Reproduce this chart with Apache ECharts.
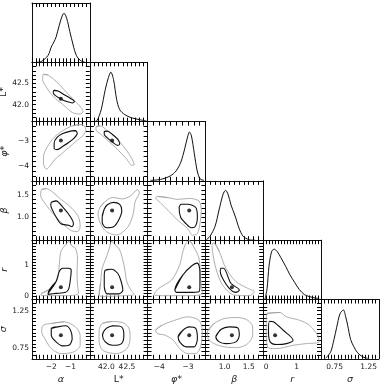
<!DOCTYPE html>
<html lang="en">
<head>
<meta charset="UTF-8">
<title>corner plot</title>
<script src="https://cdn.jsdelivr.net/npm/echarts@6/dist/echarts.min.js"></script>
<style>
    html, body { margin: 0; padding: 0; background: #fff; }
    #chart { width: 382px; height: 387px; }
</style>
</head>
<body>
<div id="chart"></div>
<script>
    // parameter names and axis ranges (min is a multiple of the tick step)
    const names = ['α', 'L*', 'φ*', 'β', 'r', 'σ'];
    const xRange = [[-3.0, 0], [41.6, 43.0], [-4.4, -2.4], [0.6, 1.8], [-0.1, 1.8], [0.55, 1.4]];
    const yRange = [[-3.0, 0], [41.6, 43.0], [-4.6, -2.2], [0.5, 1.8], [-0.1, 1.8], [0.6, 1.4]];
    const majorTicks = [[-2, -1], [42.0, 42.5], [-4, -3], [1.0, 1.5], [0, 1], [0.75, 1.25]];
    const tickStep = [0.2, 0.1, 0.2, 0.1, 0.1, 0.05];
    const decimals = [0, 1, 0, 1, 0, 2];

    // best fit point
    const bestFit = [-1.5, 42.14, -2.96, 1.15, 0.29, 0.918];

    // 1D marginals
    const alphaHist = [[-2.75, 0], [-2.5, 0.02], [-2.165, 0.14], [-2.0, 0.31], [-1.865, 0.41], [-1.75, 0.51], [-1.585, 0.75], [-1.415, 0.96], [-1.335, 0.99], [-1.2, 0.89], [-1.035, 0.62], [-0.865, 0.35], [-0.7, 0.14], [-0.5, 0.04], [-0.25, 0]];
    const lstarHist = [[41.7, 0], [41.775, 0.02], [41.875, 0.24], [41.975, 0.65], [42.05, 0.89], [42.11, 1.0], [42.175, 0.85], [42.25, 0.45], [42.325, 0.24], [42.45, 0.14], [42.6, 0.08], [42.8, 0.04], [42.975, 0.01]];
    const phiHist = [[-4.3, 0.01], [-3.95, 0.03], [-3.617, 0.1], [-3.417, 0.2], [-3.25, 0.38], [-3.117, 0.65], [-3.017, 0.89], [-2.95, 0.99], [-2.883, 0.91], [-2.783, 0.55], [-2.683, 0.2], [-2.583, 0.04], [-2.45, 0.01]];
    const betaHist = [[0.62, 0.01], [0.696, 0.08], [0.8, 0.28], [0.883, 0.61], [0.967, 0.93], [1.019, 1.01], [1.07, 0.93], [1.133, 0.71], [1.217, 0.49], [1.3, 0.24], [1.383, 0.08], [1.508, 0.01], [1.633, 0]];
    const rHist = [[-0.038, 0.01], [0.027, 0.22], [0.09, 0.67], [0.172, 0.96], [0.253, 1.02], [0.35, 0.98], [0.478, 0.85], [0.64, 0.67], [0.77, 0.51], [0.93, 0.35], [1.09, 0.2], [1.253, 0.1], [1.414, 0.06], [1.607, 0.03], [1.736, 0.02]];
    const sigmaHist = [[0.619, 0.01], [0.692, 0.14], [0.741, 0.39], [0.781, 0.64], [0.829, 0.91], [0.879, 0.99], [0.913, 0.85], [0.942, 0.68], [0.986, 0.39], [1.031, 0.25], [1.089, 0.12], [1.163, 0.04], [1.236, 0.01]];
    const hists = [alphaHist, lstarHist, phiHist, betaHist, rHist, sigmaHist];

    // 2D contours: outer (grey) and inner (black)
    const lstarAlphaOuter = [[-2.4, 42.718], [-2.15, 42.694], [-1.75, 42.551], [-1.35, 42.361], [-0.9, 42.147], [-0.5, 41.956], [-0.35, 41.837], [-0.5, 41.778], [-0.9, 41.813], [-1.4, 42.004], [-1.9, 42.194], [-2.25, 42.409], [-2.45, 42.599]];
    const lstarAlphaInner = [[-1.85, 42.337], [-1.65, 42.325], [-1.35, 42.242], [-1.0, 42.147], [-0.8, 42.075], [-0.9, 42.04], [-1.2, 42.075], [-1.5, 42.135], [-1.8, 42.218], [-1.9, 42.29]];

    const phiAlphaOuter = [[-0.4, -2.316], [-0.9, -2.374], [-1.4, -2.566], [-1.85, -2.835], [-2.2, -3.22], [-2.4, -3.605], [-2.4, -3.912], [-2.25, -4.124], [-2.1, -4.028], [-1.85, -3.758], [-1.5, -3.528], [-1.1, -3.258], [-0.7, -2.989], [-0.35, -2.758], [-0.2, -2.528]];
    const phiAlphaInner = [[-0.75, -2.566], [-1.0, -2.585], [-1.4, -2.682], [-1.7, -2.835], [-1.85, -3.066], [-1.85, -3.278], [-1.7, -3.335], [-1.4, -3.2], [-1.1, -3.047], [-0.8, -2.855], [-0.65, -2.682]];
    const phiLstarOuter = [[41.75, -2.412], [41.85, -2.374], [42.025, -2.566], [42.225, -2.835], [42.425, -3.22], [42.6, -3.643], [42.675, -3.951], [42.625, -3.97], [42.475, -3.682], [42.275, -3.335], [42.075, -3.028], [41.875, -2.72], [41.75, -2.528]];
    const phiLstarInner = [[41.95, -2.605], [42.025, -2.585], [42.15, -2.72], [42.275, -2.912], [42.325, -3.105], [42.275, -3.162], [42.15, -3.028], [42.025, -2.855], [41.95, -2.72]];

    const betaAlphaOuter = [[-2.5, 1.609], [-2.25, 1.63], [-1.9, 1.544], [-1.5, 1.395], [-1.1, 1.266], [-0.75, 1.116], [-0.55, 0.966], [-0.5, 0.795], [-0.65, 0.688], [-0.95, 0.709], [-1.35, 0.838], [-1.75, 1.009], [-2.1, 1.18], [-2.4, 1.352], [-2.55, 1.48]];
    const betaAlphaInner = [[-2.0, 1.33], [-1.75, 1.362], [-1.4, 1.223], [-1.0, 1.009], [-0.85, 0.859], [-0.925, 0.795], [-1.1, 0.827], [-1.5, 0.859], [-1.75, 1.009], [-1.925, 1.148], [-2.025, 1.266]];
    const betaLstarOuter = [[41.85, 1.223], [41.95, 1.33], [42.15, 1.437], [42.4, 1.405], [42.6, 1.48], [42.75, 1.609], [42.8, 1.544], [42.7, 1.352], [42.65, 1.073], [42.525, 0.795], [42.25, 0.613], [42.0, 0.688], [41.85, 0.881], [41.8, 1.073]];
    const betaLstarInner = [[41.9, 1.009], [41.95, 1.18], [42.025, 1.277], [42.175, 1.33], [42.325, 1.287], [42.375, 1.148], [42.3, 0.945], [42.175, 0.795], [42.0, 0.774], [41.9, 0.891]];
    const betaPhiOuter = [[-4.067, 1.459], [-3.677, 1.431], [-3.343, 1.395], [-2.957, 1.416], [-2.623, 1.358], [-2.543, 1.144], [-2.59, 0.859], [-2.677, 0.645], [-2.843, 0.609], [-3.01, 0.752], [-3.343, 0.93], [-3.677, 1.144], [-3.957, 1.324], [-4.123, 1.431]];
    const betaPhiInner = [[-3.233, 1.287], [-3.01, 1.287], [-2.733, 1.217], [-2.677, 1.003], [-2.767, 0.789], [-2.9, 0.774], [-3.067, 0.859], [-3.257, 1.003], [-3.31, 1.217]];

    const rAlphaOuter = [[-2.5, 0.096], [-2.0, 0.258], [-1.665, 0.58], [-1.585, 1.009], [-1.5, 1.441], [-1.25, 1.654], [-1.085, 1.764], [-0.915, 1.603], [-0.75, 1.548], [-0.635, 1.225], [-0.665, 0.796], [-0.635, 0.364], [-0.585, 0.096], [-1.165, 0.022], [-2.0, 0.022], [-2.535, 0.041]];
    const rAlphaInner = [[-2.165, 0.096], [-1.75, 0.474], [-1.585, 0.796], [-1.415, 0.903], [-1.085, 0.903], [-0.965, 0.848], [-1.0, 0.58], [-1.085, 0.258], [-1.25, 0.129], [-1.75, 0.096], [-2.165, 0.064]];
    const rLstarOuter = [[41.825, 0.032], [41.863, 0.451], [41.9, 0.903], [41.993, 1.225], [42.075, 1.548], [42.125, 1.758], [42.225, 1.645], [42.325, 1.483], [42.4, 1.161], [42.45, 0.838], [42.5, 0.451], [42.6, 0.193], [42.675, 0.064], [42.325, 0.016], [41.95, 0.0]];
    const rLstarInner = [[41.975, 0.838], [42.125, 0.871], [42.275, 0.741], [42.35, 0.516], [42.4, 0.193], [42.3, 0.08], [42.025, 0.08], [41.95, 0.322], [41.95, 0.645]];
    const rPhiOuter = [[-2.957, 1.79], [-2.843, 1.654], [-2.623, 1.225], [-2.567, 0.58], [-2.51, 0.096], [-3.01, 0.022], [-3.9, 0.022], [-4.177, 0.064], [-4.01, 0.258], [-3.567, 0.526], [-3.29, 1.009], [-3.177, 1.441], [-3.067, 1.709]];
    const rPhiInner = [[-3.457, 0.203], [-3.177, 0.687], [-2.9, 0.958], [-2.677, 1.064], [-2.59, 0.796], [-2.59, 0.364], [-2.623, 0.151], [-3.01, 0.129], [-3.4, 0.129]];
    const rBetaOuter = [[0.783, 1.709], [0.887, 1.441], [1.025, 0.903], [1.233, 0.474], [1.477, 0.258], [1.616, 0.151], [1.512, 0.022], [1.2, 0.041], [0.956, 0.364], [0.816, 0.903], [0.747, 1.441], [0.737, 1.677]];
    const rBetaInner = [[0.92, 0.903], [0.977, 0.903], [1.129, 0.419], [1.304, 0.203], [1.233, 0.129], [1.095, 0.258], [0.956, 0.58], [0.908, 0.796]];

    const sigmaAlphaOuter = [[-2.0, 1.076], [-1.335, 1.099], [-0.75, 1.031], [-0.5, 0.918], [-0.5, 0.782], [-0.835, 0.693], [-1.5, 0.67], [-2.0, 0.738], [-2.335, 0.873], [-2.5, 0.964], [-2.415, 1.053]];
    const sigmaAlphaInner = [[-2.0, 1.008], [-1.665, 1.031], [-1.25, 1.045], [-1.0, 0.985], [-0.915, 0.873], [-1.085, 0.782], [-1.415, 0.774], [-1.75, 0.828], [-2.0, 0.918]];
    const sigmaLstarOuter = [[41.9, 1.076], [42.15, 1.103], [42.425, 1.082], [42.55, 1.008], [42.575, 0.873], [42.5, 0.738], [42.25, 0.67], [41.925, 0.711], [41.825, 0.832], [41.825, 0.968]];
    const sigmaLstarInner = [[41.993, 1.008], [42.158, 1.045], [42.368, 1.031], [42.425, 0.918], [42.368, 0.805], [42.158, 0.782], [41.975, 0.828], [41.908, 0.918]];
    const sigmaPhiOuter = [[-4.123, 0.985], [-3.9, 1.053], [-3.457, 1.12], [-3.01, 1.166], [-2.623, 1.12], [-2.51, 0.985], [-2.567, 0.761], [-2.733, 0.67], [-3.01, 0.67], [-3.29, 0.738], [-3.51, 0.85], [-3.79, 0.918], [-4.067, 0.941]];
    const sigmaPhiInner = [[-3.343, 0.896], [-3.177, 0.985], [-2.957, 1.031], [-2.733, 1.008], [-2.677, 0.873], [-2.79, 0.761], [-3.067, 0.761], [-3.29, 0.828]];
    const sigmaBetaOuter = [[0.643, 0.964], [0.783, 1.076], [0.991, 1.143], [1.268, 1.157], [1.477, 1.12], [1.581, 1.031], [1.581, 0.918], [1.477, 0.805], [1.268, 0.751], [0.991, 0.761], [0.783, 0.805], [0.658, 0.873]];
    const sigmaBetaInner = [[0.816, 0.896], [0.92, 0.995], [1.095, 1.031], [1.268, 1.018], [1.304, 0.918], [1.233, 0.828], [1.025, 0.805], [0.887, 0.828]];
    const sigmaROuter = [[0.022, 1.211], [0.451, 1.224], [0.667, 1.166], [1.096, 1.12], [1.419, 1.053], [1.687, 0.918], [1.741, 0.828], [1.312, 0.805], [0.88, 0.782], [0.345, 0.738], [0.074, 0.747], [0.0, 0.918], [0.0, 1.099]];
    const sigmaRInner = [[0.106, 1.107], [0.235, 1.099], [0.558, 0.985], [0.88, 0.85], [0.667, 0.805], [0.345, 0.792], [0.129, 0.828], [0.074, 0.964]];

    // [row, col, outer, inner]
    const panels = [
        [1, 0, lstarAlphaOuter, lstarAlphaInner],
        [2, 0, phiAlphaOuter, phiAlphaInner],
        [2, 1, phiLstarOuter, phiLstarInner],
        [3, 0, betaAlphaOuter, betaAlphaInner],
        [3, 1, betaLstarOuter, betaLstarInner],
        [3, 2, betaPhiOuter, betaPhiInner],
        [4, 0, rAlphaOuter, rAlphaInner],
        [4, 1, rLstarOuter, rLstarInner],
        [4, 2, rPhiOuter, rPhiInner],
        [4, 3, rBetaOuter, rBetaInner],
        [5, 0, sigmaAlphaOuter, sigmaAlphaInner],
        [5, 1, sigmaLstarOuter, sigmaLstarInner],
        [5, 2, sigmaPhiOuter, sigmaPhiInner],
        [5, 3, sigmaBetaOuter, sigmaBetaInner],
        [5, 4, sigmaROuter, sigmaRInner]
    ];

    const L0 = 32, T0 = 3, W = 57.8, H = 59.3;
    const font = 'DejaVu Sans';

    // only label the major ticks
    function fmt(i) {
        return v => majorTicks[i].some(m => Math.abs(m - v) < 1e-6) ? v.toFixed(decimals[i]).replace('-', '−') : '';
    }
    function closed(arr) {
        return arr.concat([arr[0], arr[1]]);
    }

    let grids = [], xAxes = [], yAxes = [], series = [];
    let axisIndex = {};

    const tickStyle = {color: '#000', width: 1, opacity: 1};
    const frameStyle = {color: '#111', width: 1};

    function makeX(gi, i, pos, showLabel) {
        let range = xRange[i];
        xAxes.push({
            gridIndex: gi, type: 'value', position: pos, min: range[0], max: range[1], interval: tickStep[i],
            axisLine: {show: true, onZero: false, lineStyle: frameStyle}, splitLine: {show: false},
            axisTick: {show: true, inside: true, length: 4, lineStyle: tickStyle},
            axisLabel: {show: showLabel, showMinLabel: false, showMaxLabel: false, formatter: fmt(i), fontSize: 7.5, fontFamily: font, color: '#222', margin: 4},
            name: showLabel ? names[i] : '', nameLocation: 'middle', nameGap: 16,
            nameTextStyle: {fontSize: 9.5, fontFamily: font, color: '#222', fontStyle: i === 1 ? 'normal' : 'italic'}
        });
        return xAxes.length - 1;
    }
    function makeY(gi, i, pos, showLabel, ticks) {
        let range = i < 0 ? [0, 1.2] : yRange[i];
        yAxes.push({
            gridIndex: gi, type: 'value', position: pos, min: range[0], max: range[1],
            interval: i < 0 ? 0.2 : tickStep[i],
            axisLine: {show: true, onZero: false, lineStyle: frameStyle}, splitLine: {show: false},
            axisTick: {show: ticks, inside: true, length: 4, lineStyle: tickStyle},
            axisLabel: {show: showLabel, showMinLabel: false, showMaxLabel: false, formatter: i < 0 ? '' : fmt(i), fontSize: 7.5, fontFamily: font, color: '#222', margin: 3},
            name: showLabel ? names[i] : '', nameLocation: 'middle', nameGap: 22,
            nameTextStyle: {fontSize: 9.5, fontFamily: font, color: '#222', fontStyle: i === 1 ? 'normal' : 'italic'}
        });
        return yAxes.length - 1;
    }

    for (let r = 0; r < 6; r++) {
        for (let c = 0; c <= r; c++) {
            let gi = grids.length;
            grids.push({
                left: L0 + c * W, top: T0 + r * H, width: W, height: H,
                containLabel: false, outerBoundsMode: 'none',
                show: false
            });
            let xb = makeX(gi, c, 'bottom', r === 5);
            makeX(gi, c, 'top', false);
            let yl;
            if (r === c) {
                yl = makeY(gi, -1, 'left', false, false);
                makeY(gi, -1, 'right', false, false);
            } else {
                yl = makeY(gi, r, 'left', c === 0, true);
                makeY(gi, r, 'right', false, true);
            }
            axisIndex[r + '_' + c] = [xb, yl];
        }
    }

    // diagonal histograms
    for (let i = 0; i < 6; i++) {
        let [xi, yi] = axisIndex[i + '_' + i];
        series.push({
            type: 'line', xAxisIndex: xi, yAxisIndex: yi, data: hists[i],
            smooth: 0.3, showSymbol: false, clip: true,
            lineStyle: {color: '#111', width: 1}
        });
    }

    // contours and best-fit points
    panels.forEach(([r, c, outer, inner]) => {
        let [xi, yi] = axisIndex[r + '_' + c];
        series.push({
            type: 'line', xAxisIndex: xi, yAxisIndex: yi, data: closed(outer),
            smooth: 0.3, showSymbol: false, clip: true,
            lineStyle: {color: '#9a9a9a', width: 0.8}
        });
        series.push({
            type: 'line', xAxisIndex: xi, yAxisIndex: yi, data: closed(inner),
            smooth: 0.3, showSymbol: false, clip: true,
            lineStyle: {color: '#111', width: 1.1}
        });
        series.push({
            type: 'scatter', xAxisIndex: xi, yAxisIndex: yi, data: [[bestFit[c], bestFit[r]]],
            symbolSize: 4, itemStyle: {color: '#000'}
        });
    });

    let chart = echarts.init(document.getElementById('chart'));
    chart.setOption({
        animation: false,
        grid: grids,
        xAxis: xAxes,
        yAxis: yAxes,
        series: series
    });
</script>
</body>
</html>
